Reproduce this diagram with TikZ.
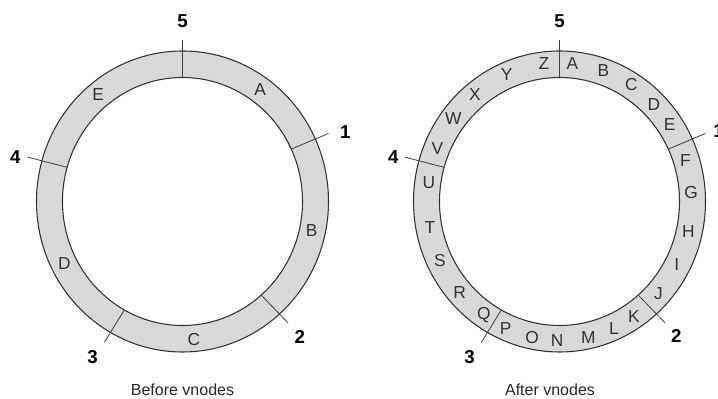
\documentclass[tikz,border=0pt]{standalone}
\usepackage{fontspec}
\setmainfont{Liberation Sans}
\begin{document}
\begin{tikzpicture}[x=0.75pt, y=0.75pt,
  ring/.style={draw=black!80, line width=0.8pt, fill=black!15, even odd rule},
  cut/.style={draw=black!75, line width=0.6pt},
  ltr/.style={inner sep=0pt, text=black!80, font=\fontsize{13}{13}\selectfont},
  num/.style={inner sep=0pt, font=\fontsize{14}{14}\selectfont\bfseries},
  caption/.style={inner sep=0pt, anchor=base, text=black!85, font=\fontsize{12}{12}\selectfont}]
\useasboundingbox (0,0) rectangle (718,399);
% before vnodes
\begin{scope}[shift={(182.5,197.5)}]
\path[ring] (0,0) ellipse [x radius=146, y radius=150.5] (0,0) ellipse [x radius=120, y radius=124];
\foreach \n/\a/\l/\r in {5/90/90/180, 1/25/23/177, 2/-49/-49/179, 3/-119/-120/180, 4/164/165/173} {
  \coordinate (b\n i) at (\a:120 and 124);
  \coordinate (b\n o) at (\a:161);
  \draw[cut] (b\n i) -- (b\n o);
  \node[num] (b\n) at (\l:\r) {\n};
}
\foreach \t/\a in {A/54, B/-12, C/-85, D/-153.5, E/129.7}
  \node[ltr] (b\t) at (\a:132 and 139) {\t};
\node[caption] (bcap) at (0,-194.5) {Before vnodes};
\end{scope}
% after vnodes
\begin{scope}[shift={(559.5,197.5)}]
\path[ring] (0,0) ellipse [x radius=146, y radius=150.5] (0,0) ellipse [x radius=120, y radius=124];
\foreach \n/\a/\l/\r in {5/90/90/180, 1/25/24/174, 2/-49/-49/178, 3/-119/-120/180, 4/164/165/172} {
  \coordinate (a\n i) at (\a:120 and 124);
  \coordinate (a\n o) at (\a:161);
  \draw[cut] (a\n i) -- (a\n o);
  \node[num] (a\n) at (\l:\r) {\n};
}
\foreach \t/\a in {A/84.4, B/70.6, C/57, D/44.4, E/33.5, F/17.3, G/3.7, H/-12.3, I/-27.2,
    J/-41.5, K/-55.7, L/-65.6, M/-77.4, N/-91, O/-102, P/-114.1, Q/-125, R/-139.2,
    S/-155, T/-169, U/172, V/157.8, W/143.5, X/129.9, Y/113.6, Z/96.8}
  \node[ltr] (a\t) at (\a:132 and 139) {\t};
\node[caption] (acap) at (-9.5,-194.5) {After vnodes};
\end{scope}
\end{tikzpicture}
\end{document}
